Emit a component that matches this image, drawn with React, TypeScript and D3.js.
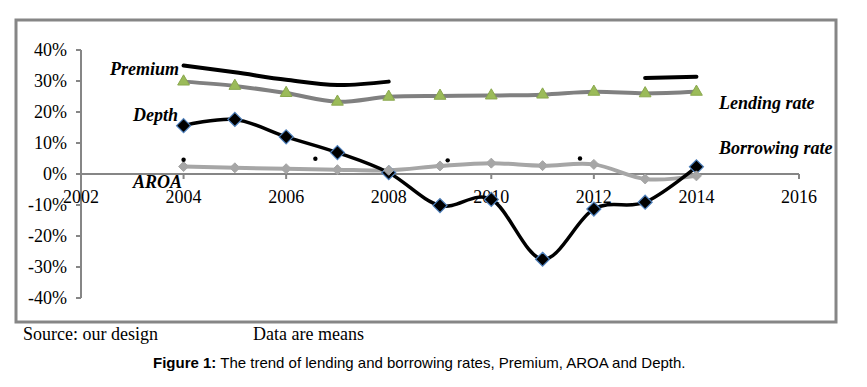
import React from 'react'
import * as d3 from 'd3'

const years = [2004, 2005, 2006, 2007, 2008, 2009, 2010, 2011, 2012, 2013, 2014]
const lendingRate = [29.8, 28.4, 26.1, 23.3, 24.9, 25.2, 25.3, 25.6, 26.5, 26.0, 26.5]
const borrowingRate = [2.4, 2.0, 1.7, 1.4, 1.2, 2.6, 3.5, 2.7, 3.1, -1.6, -0.6]
const premium: (number | null)[] = [35.0, 32.8, 30.4, 28.7, 29.8, null, null, null, null, 31.0, 31.4]
const depth = [15.6, 17.6, 12.0, 6.9, 0.4, -10.2, -8.2, -27.5, -11.3, -9.1, 2.3]
const aroaYears = [2004, 2006.57, 2009.15, 2011.73]
const aroa = [4.6, 4.9, 4.4, 5.0]

const xTicks = [2002, 2004, 2006, 2008, 2010, 2012, 2014, 2016]
const yTicks = [40, 30, 20, 10, 0, -10, -20, -30, -40]

const W = 867
const H = 387
const serif = '"Liberation Serif", "Times New Roman", serif'
const sans = '"Liberation Sans", Arial, sans-serif'

export default function App() {
  const x = d3.scaleLinear().domain([2002, 2016]).range([81, 799])
  const y = d3.scaleLinear().domain([-40, 40]).range([298, 50])

  const smooth = d3.curveCardinal.tension(0)

  const line = d3.line<[number, number | null]>()
    .defined((d) => d[1] !== null)
    .x((d) => x(d[0]))
    .y((d) => y(d[1] as number))
    .curve(smooth)

  const zip = (vals: (number | null)[]) => years.map((yr, i) => [yr, vals[i]] as [number, number | null])

  const tri = d3.symbol().type(d3.symbolTriangle).size(60)()
  const diamondBig = 'M0,-7L7,0L0,7L-7,0Z'
  const diamondSmall = 'M0,-5L5,0L0,5L-5,0Z'

  return (
    <svg width={W} height={H} style={{ position: 'absolute', left: 0, top: 0, background: '#fff' }}>
      {/* frame */}
      <rect x={16} y={20} width={820} height={302} fill="none" stroke="#868686" strokeWidth={3} />

      {/* y axis */}
      <line x1={81} x2={81} y1={y(40)} y2={y(-40)} stroke="#868686" strokeWidth={2} />
      {yTicks.map((t) => (
        <g key={t}>
          <line x1={76} x2={81} y1={y(t)} y2={y(t)} stroke="#868686" strokeWidth={2} />
          <text x={67} y={y(t)} dy="0.35em" textAnchor="end" fontFamily={serif} fontSize={18} fill="#000">
            {t}%
          </text>
        </g>
      ))}

      {/* x axis at 0 */}
      <line x1={x(2002)} x2={x(2016)} y1={y(0)} y2={y(0)} stroke="#868686" strokeWidth={2} />
      {xTicks.map((t) => (
        <g key={t}>
          <line x1={x(t)} x2={x(t)} y1={y(0)} y2={y(0) + 5} stroke="#868686" strokeWidth={2} />
          <text x={x(t)} y={203} textAnchor="middle" fontFamily={serif} fontSize={18} fill="#000">
            {t}
          </text>
        </g>
      ))}

      {/* lending rate */}
      <path d={line(zip(lendingRate)) || ''} fill="none" stroke="#808080" strokeWidth={4} />
      {/* premium */}
      <path d={line(zip(premium)) || ''} fill="none" stroke="#000" strokeWidth={4} strokeLinecap="round" />
      {/* borrowing rate line */}
      <path d={line(zip(borrowingRate)) || ''} fill="none" stroke="#a6a6a6" strokeWidth={4} />
      {/* depth line */}
      <path d={line(zip(depth)) || ''} fill="none" stroke="#000" strokeWidth={3.5} />

      {lendingRate.map((v, i) => (
        <path key={i} d={tri || ''} transform={`translate(${x(years[i])},${y(v)})`} fill="#9bbb59" stroke="#8aa84e" strokeWidth={1} />
      ))}
      {depth.map((v, i) => (
        <path key={i} d={diamondBig} transform={`translate(${x(years[i])},${y(v)})`} fill="#000" stroke="#4f81bd" strokeWidth={1.2} />
      ))}
      {borrowingRate.map((v, i) => (
        <path key={i} d={diamondSmall} transform={`translate(${x(years[i])},${y(v)})`} fill="#a6a6a6" stroke="#a6a6a6" strokeWidth={1} />
      ))}
      {aroa.map((v, i) => (
        <circle key={i} cx={x(aroaYears[i])} cy={y(v)} r={2.2} fill="#000" />
      ))}

      {/* series labels */}
      <g fontFamily={serif} fontSize={18} fontWeight="bold" fontStyle="italic" fill="#000">
        <text x={110} y={75}>Premium</text>
        <text x={133} y={121}>Depth</text>
        <text x={133} y={188}>AROA</text>
        <text x={719} y={109}>Lending rate</text>
        <text x={719} y={154}>Borrowing rate</text>
      </g>

      {/* notes */}
      <text x={23} y={340} fontFamily={serif} fontSize={18} fill="#000">Source: our design</text>
      <text x={253} y={340} fontFamily={serif} fontSize={18} fill="#000">Data are means</text>
      <text x={153} y={368} fontFamily={sans} fontSize={15} fill="#000">
        <tspan fontWeight="bold">Figure 1:</tspan> The trend of lending and borrowing rates, Premium, AROA and Depth.
      </text>
    </svg>
  )
}
